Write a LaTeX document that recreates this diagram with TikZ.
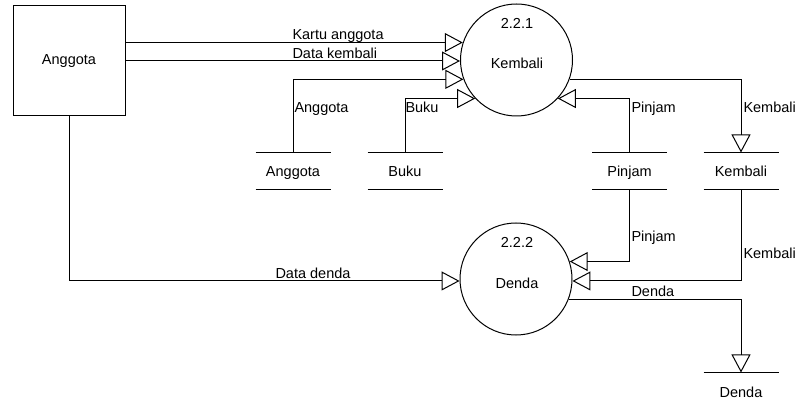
\documentclass[tikz,border=0pt]{standalone}
\usepackage{fontspec}
\setmainfont{Liberation Sans}
\usetikzlibrary{arrows.meta}
\begin{document}
\begin{tikzpicture}[x=1pt,y=-1pt, line width=1pt,
  every node/.style={font=\fontsize{14.5}{16}\selectfont},
  flow/.style={-{Triangle[open,length=18pt,width=19pt]}},
  entity/.style={draw, minimum width=112pt, minimum height=110pt, inner sep=0pt},
  proc/.style={draw, circle, minimum size=112pt, inner sep=0pt},
  store/.style={minimum width=74pt, minimum height=36pt, inner sep=0pt, text height=12pt, text depth=0pt},
  lbl/.style={anchor=base west, inner sep=0pt}]
\useasboundingbox (0,0) rectangle (796,406);
% entity and processes
\node[entity] (ang) at (69,61) {Anggota};
\node[proc] (k) at (516.5,60) {};
\node (kn) at (517,23.5) {2.2.1};
\node (kt) at (517,63) {Kembali};
\node[proc] (d) at (516,279) {};
\node (dn) at (517,242.5) {2.2.2};
\node (dt) at (517,283.5) {Denda};
% data stores
\node[store] (sA) at (293,171) {Anggota};
\node[store] (sB) at (405,171) {Buku};
\node[store] (sP) at (629.5,171) {Pinjam};
\node[store] (sK) at (741,171) {Kembali};
\node[store] (sD) at (741,391) {Denda};
\foreach \s in {sA,sB,sP,sK}{
  \draw (\s.north west) -- (\s.north east) (\s.south west) -- (\s.south east);
}
\draw (sD.north west) -- (sD.north east);
% flows
\draw[flow] (ang.east |- k.162) -- (k.162);
\draw[flow] (ang.east |- k.181) -- (k.181);
\draw[flow] (sA.north) |- (k.200);
\draw[flow] (sB.north) |- (k.223);
\draw[flow] (sP.north) |- (k.317);
\draw[flow] (k.340) -| (sK.north);
\draw[flow] (sP.south) |- (d.18);
\draw[flow] (sK.south) |- (d.358);
\draw[flow] (d.339) -| (sD.north);
\draw[flow] (ang.south) |- (d.182);
% labels
\node[lbl] (l1) at (292,39.5) {Kartu anggota};
\node[lbl] (l2) at (292,59) {Data kembali};
\node[lbl] (l3) at (294,113) {Anggota};
\node[lbl] (l4) at (405,113) {Buku};
\node[lbl] (l5) at (631,113) {Pinjam};
\node[lbl] (l6) at (743,113) {Kembali};
\node[lbl] (l7) at (631,242) {Pinjam};
\node[lbl] (l8) at (743,259) {Kembali};
\node[lbl] (l9) at (631,297) {Denda};
\node[lbl] (l10) at (275,279) {Data denda};
\end{tikzpicture}
\end{document}
